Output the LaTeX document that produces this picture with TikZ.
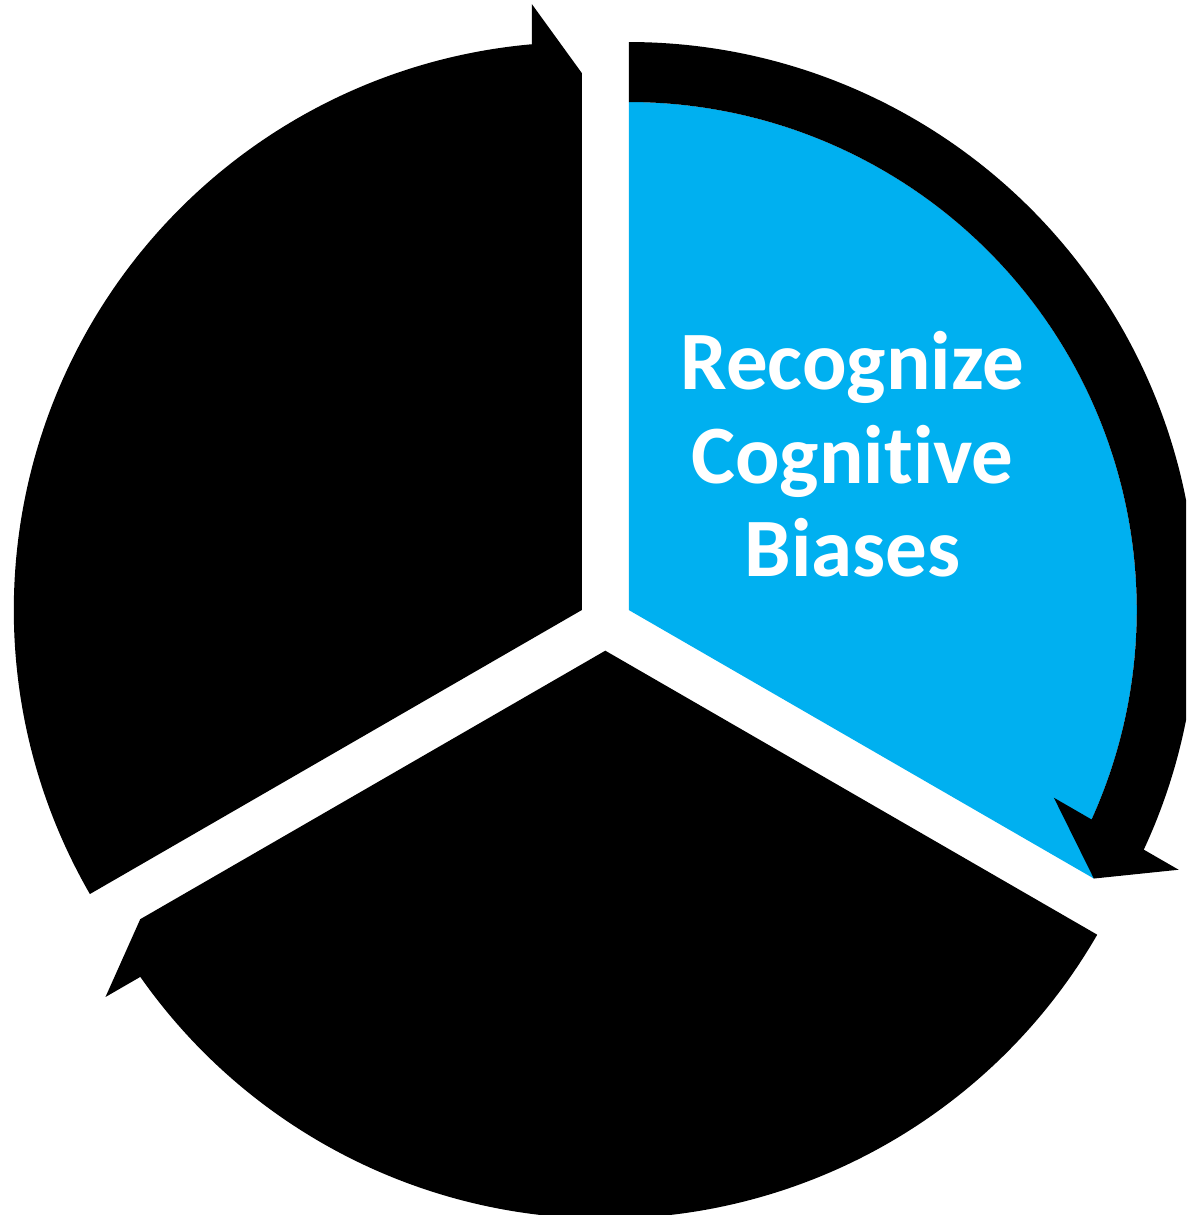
\documentclass[tikz,border=0pt]{standalone}
\usepackage{fontspec}
\setmainfont{Carlito}[Ligatures={NoCommon}]
\definecolor{segblue}{RGB}{0,176,240}
\tikzset{
  lbl/.style={text=white, inner sep=0pt, font=\bfseries\fontsize{83}{94}\selectfont},
  segblack/.style={fill=black},
  segcyan/.style={fill=segblue}
}
\begin{document}
\begin{tikzpicture}[x=1pt,y=1pt]
\useasboundingbox (0,0) rectangle (1186,1215);
\clip (0,0) rectangle (1186,1215);
\coordinate (A1) at (628.8,604.95);
\coordinate (A2) at (581.8,604.95);
\coordinate (A3) at (605.3,564.3);
% top-right segment (blue) with its circular arrow
\begin{scope}[shift={(A1)}, rotate=-30]
  \path[segcyan] (0,0) -- (537,0) -- (505.5,50) arc[start angle=5.65, end angle=120, radius=508] -- cycle;
  \path[segblack] (120:508) -- (120:568) arc[start angle=120, end angle=5.05, radius=568]
    -- (606,50) -- (537,0) -- (462,50) -- (505.5,50)
    arc[start angle=5.65, end angle=120, radius=508] -- cycle;
\end{scope}
% left segment
\begin{scope}[shift={(A2)}, rotate=90]
  \path[segblack] (0,0) -- (120:568) arc[start angle=120, end angle=5.05, radius=568]
    -- (606,50) -- (537,0) -- cycle;
\end{scope}
% bottom segment
\begin{scope}[shift={(A3)}, rotate=210]
  \path[segblack] (0,0) -- (120:568) arc[start angle=120, end angle=5.05, radius=568]
    -- (606,50) -- (537,0) -- cycle;
\end{scope}
\node[lbl, anchor=base] (t1) at (852.5,825.7) {Recognize};
\node[lbl, anchor=base] (t2) at (852.5,731.7) {Cognitive};
\node[lbl, anchor=base] (t3) at (852.5,638.3) {Biases};
\end{tikzpicture}
\end{document}
